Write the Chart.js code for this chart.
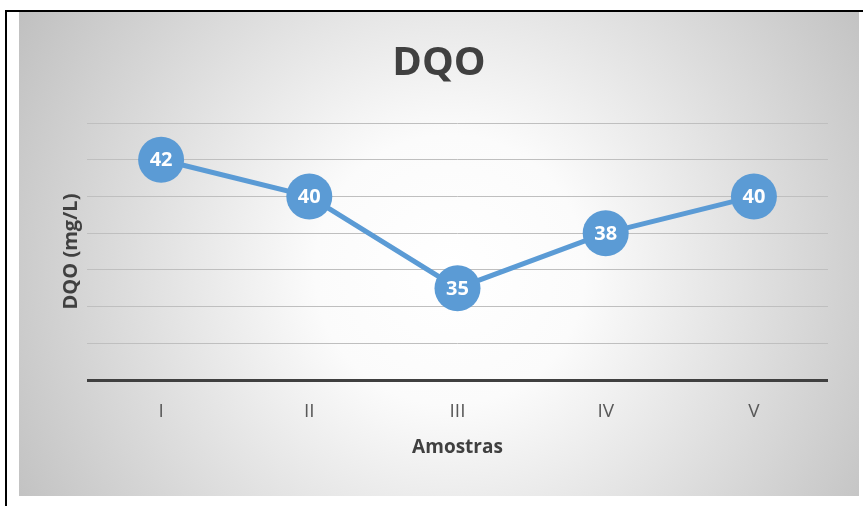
<!DOCTYPE html>
<html>
<head>
<meta charset="utf-8">
<title>DQO</title>
<script src="https://cdn.jsdelivr.net/npm/chart.js@4/dist/chart.umd.min.js"></script>
<style>
html, body { margin: 0; padding: 0; background: #fff; }
#wrap { width: 863px; height: 506px; position: relative; }
</style>
</head>
<body>
<div id="wrap"><canvas id="dqoChart" width="863" height="506"></canvas></div>
<script>
const amostras = ["I", "II", "III", "IV", "V"]
const dqoValues = [42, 40, 35, 38, 40]
const yMin = 30
const yMax = 44
const yStep = 2

const blue = "#5b9bd5"
const font = "'Open Sans', 'DejaVu Sans', sans-serif"

// page frame + grey card with a soft radial highlight behind the plot
const backdrop = {
  id: "backdrop",
  beforeDraw(chart){
    const c = chart.ctx
    c.save()
    c.fillStyle = "#fff"
    c.fillRect(0, 0, chart.width, chart.height)

    const g = c.createRadialGradient(450, 270, 0, 450, 270, 540)
    g.addColorStop(0, "#ffffff")
    g.addColorStop(0.25, "#fbfbfb")
    g.addColorStop(1, "#bababa")
    c.fillStyle = g
    c.fillRect(19, 12, 840, 484)

    c.fillStyle = "#000"
    c.fillRect(5, 10, 858, 2)
    c.fillRect(5, 10, 2, 496)
    c.restore()
  }
}

// white value text centred in each marker
const pointLabels = {
  id: "pointLabels",
  afterDatasetsDraw(chart){
    const c = chart.ctx
    const meta = chart.getDatasetMeta(0)
    c.save()
    c.fillStyle = "#fff"
    c.font = "bold 20px " + font
    c.textAlign = "center"
    c.textBaseline = "middle"
    meta.data.forEach((pt, i)=>{
      c.fillText(String(dqoValues[i]), pt.x, pt.y + 1)
    })
    c.restore()
  }
}

new Chart(document.getElementById("dqoChart"), {
  type: "line",
  data: {
    labels: amostras,
    datasets: [{
      data: dqoValues,
      borderColor: blue,
      borderWidth: 5,
      backgroundColor: blue,
      pointBackgroundColor: blue,
      pointBorderWidth: 0,
      pointRadius: 23,
      pointHoverRadius: 23,
      tension: 0,
      clip: false
    }]
  },
  options: {
    responsive: false,
    animation: false,
    events: [],
    layout: { padding: { left: 50, right: 35, top: 12, bottom: 40 } },
    plugins: {
      legend: { display: false },
      tooltip: { enabled: false },
      title: {
        display: true,
        text: "DQO",
        color: "#404040",
        font: { family: font, size: 40, weight: "bold" },
        padding: { top: 28, bottom: 35 }
      }
    },
    scales: {
      x: {
        offset: true,
        grid: { display: false, drawTicks: false },
        border: { display: false },
        ticks: {
          color: "#595959",
          font: { family: font, size: 19 },
          padding: 20
        },
        title: {
          display: true,
          text: "Amostras",
          color: "#404040",
          font: { family: font, size: 19, weight: "bold" },
          padding: { top: 0, bottom: 7 }
        },
        afterFit(s){ s.height = 86 }
      },
      y: {
        min: yMin,
        max: yMax,
        ticks: { display: false, stepSize: yStep },
        border: { display: false },
        grid: {
          drawTicks: false,
          color: ctx => ctx.tick && ctx.tick.value === yMin ? "#404040" : "#bfbfbf",
          lineWidth: ctx => ctx.tick && ctx.tick.value === yMin ? 3 : 1
        },
        title: {
          display: true,
          text: "DQO (mg/L)",
          color: "#404040",
          font: { family: font, size: 20, weight: "bold" },
          padding: { top: 9, bottom: 0 }
        },
        afterFit(s){ s.width = 37 }
      }
    }
  },
  plugins: [backdrop, pointLabels]
})
</script>
</body>
</html>
